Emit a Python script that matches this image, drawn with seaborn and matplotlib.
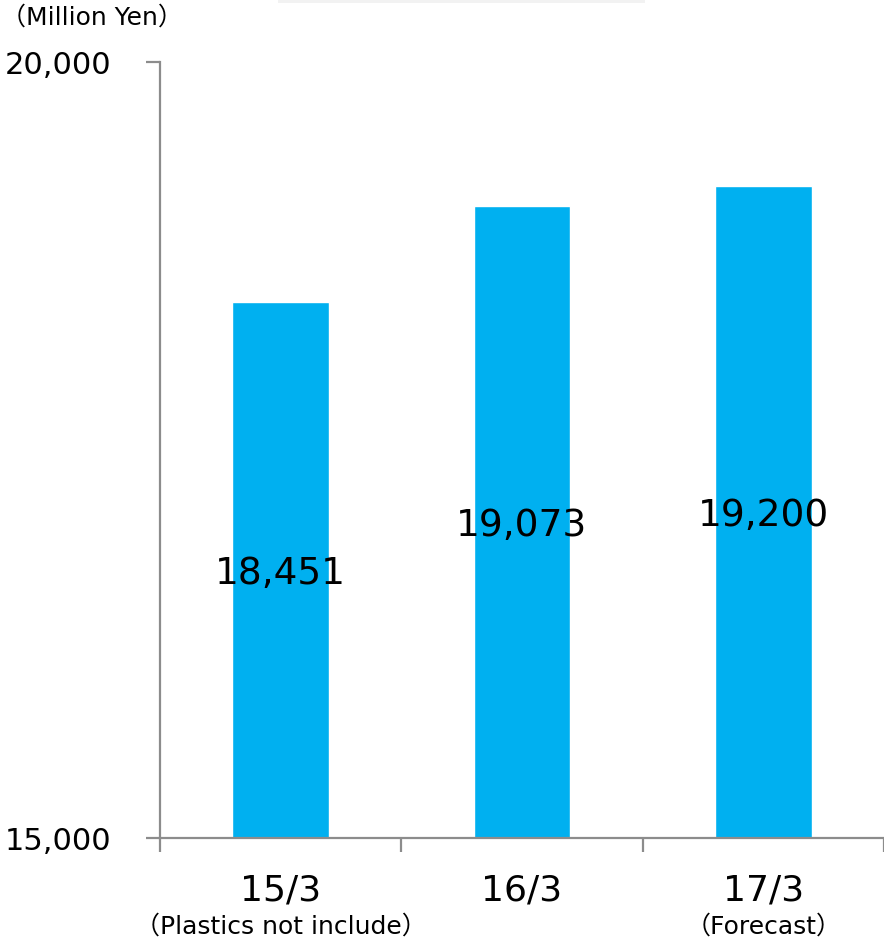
import matplotlib
matplotlib.use("Agg")
import matplotlib.pyplot as plt
import matplotlib.transforms as mtransforms
from matplotlib.patches import Rectangle
import seaborn as sns
import pandas as pd

# Net sales by fiscal year (million yen)
periods = ["15/3", "16/3", "17/3"]
notes = ["（Plastics not include）", "", "（Forecast）"]
sales = [18451, 19073, 19200]
value_labels = ["18,451", "19,073", "19,200"]
ytick_values = [15000, 20000]
ytick_labels = ["15,000", "20,000"]
unit_label = "（Million Yen）"

sns.set_theme(style="white")
plt.rcParams["font.family"] = ["DejaVu Sans", "Noto Sans CJK JP"]

BAR_COLOR = "#00B0F0"
AXIS_COLOR = "#8C8C8C"

df = pd.DataFrame({"period": periods, "sales": sales})

fig = plt.figure(figsize=(8.84, 9.44), dpi=100)
ax = fig.add_axes([160 / 884, 1 - 838 / 944, 1 - 160 / 884, (838 - 62) / 944])

sns.barplot(data=df, x="period", y="sales", color=BAR_COLOR, saturation=1,
            width=0.4, ax=ax, errorbar=None)

ax.set_xlim(-0.5, 2.5)
ax.set_ylim(ytick_values[0], ytick_values[-1])
ax.set_xlabel("")
ax.set_ylabel("")

# spines
for side in ["top", "right"]:
    ax.spines[side].set_visible(False)
for side in ["left", "bottom"]:
    ax.spines[side].set_color(AXIS_COLOR)
    ax.spines[side].set_linewidth(1.6)

# y axis ticks
ax.set_yticks(ytick_values)
ax.set_yticklabels(ytick_labels, fontsize=22, color="black")
ax.tick_params(axis="y", direction="out", length=10, width=1.6,
               color=AXIS_COLOR, pad=25, left=True)

# x axis: tick marks at category boundaries, labels drawn as text
ax.set_xticks([-0.5, 0.5, 1.5, 2.5])
ax.set_xticklabels([])
ax.tick_params(axis="x", direction="out", length=10, width=1.6,
               color=AXIS_COLOR, bottom=True)

trans = mtransforms.blended_transform_factory(ax.transData, fig.transFigure)
for i, (p, n) in enumerate(zip(periods, notes)):
    ax.text(i, 1 - 891 / 944, p, transform=trans, ha="center", va="center",
            fontsize=26, color="black")
    if n:
        ax.text(i, 1 - 927 / 944, n, transform=trans, ha="center", va="center",
                fontsize=18, color="black")

# value labels centred inside each bar
for i, (v, lab) in enumerate(zip(sales, value_labels)):
    ax.text(i, (ytick_values[0] + v) / 2, lab, ha="center",
            va="center_baseline", fontsize=27, color="black")

# unit label
fig.text(1 / 884, 1 - 18 / 944, unit_label, ha="left", va="center",
         fontsize=18, color="black")

# faint panel edge at the top of the canvas
fig.patches.append(Rectangle((278 / 884, 1 - 3 / 944), (645 - 278) / 884, 3 / 944,
                             transform=fig.transFigure, facecolor="#F2F2F2",
                             edgecolor="none"))

fig.savefig("out.png", dpi=100, facecolor="white")
